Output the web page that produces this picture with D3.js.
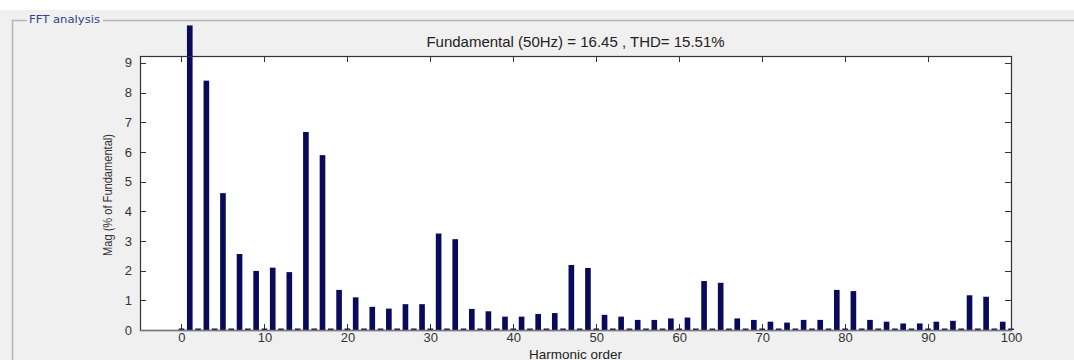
<!DOCTYPE html>
<html>
<head>
<meta charset="utf-8">
<script src="https://cdn.jsdelivr.net/npm/d3@7"></script>
<style>
  html, body { margin: 0; padding: 0; background: #ffffff; }
  svg { display: block; font-family: "Liberation Sans", Arial, sans-serif; }
</style>
</head>
<body>
<svg id="chart" width="1074" height="360"></svg>
<script>
// harmonic orders 0..100, values in % of fundamental (fundamental itself not shown)
var harmonics = d3.range(0, 101);
var oddMag = {
  1: 10.26, 3: 8.40, 5: 4.61, 7: 2.56, 9: 1.99, 11: 2.10, 13: 1.95, 15: 6.67,
  17: 5.89, 19: 1.35, 21: 1.10, 23: 0.78, 25: 0.72, 27: 0.87, 29: 0.87,
  31: 3.25, 33: 3.06, 35: 0.71, 37: 0.63, 39: 0.45, 41: 0.45, 43: 0.54,
  45: 0.57, 47: 2.19, 49: 2.09, 51: 0.51, 53: 0.45, 55: 0.34, 57: 0.34,
  59: 0.39, 61: 0.42, 63: 1.65, 65: 1.59, 67: 0.39, 69: 0.34, 71: 0.28,
  73: 0.25, 75: 0.34, 77: 0.34, 79: 1.35, 81: 1.31, 83: 0.34, 85: 0.28,
  87: 0.22, 89: 0.22, 91: 0.28, 93: 0.31, 95: 1.17, 97: 1.12, 99: 0.28
};
var evenMag = 0.05;
var xTicks = d3.range(0, 101, 10);
var yTicks = d3.range(0, 10, 1);
var title = "Fundamental (50Hz) = 16.45 , THD= 15.51%";

var data = harmonics.map(function (h) {
  return { h: h, v: oddMag[h] !== undefined ? oddMag[h] : evenMag };
});

var svg = d3.select("#chart");
var plotL = 140, plotR = 1011, plotT = 56, plotB = 330;

// window background and group box
svg.append("rect").attr("x", 0).attr("y", 0).attr("width", 1074).attr("height", 360)
    .attr("fill", "#ffffff");
svg.append("rect").attr("x", 0).attr("y", 10).attr("width", 1074).attr("height", 350)
    .attr("fill", "#f0f0f0");
svg.append("path")
    .attr("d", "M27,20.5 H12.5 V360 M103,20.5 H1074")
    .attr("fill", "none").attr("stroke", "#b4b4b4").attr("stroke-width", 1.5);
svg.append("text").attr("x", 29).attr("y", 23)
    .attr("font-family", "'DejaVu Sans', Verdana, sans-serif")
    .attr("font-size", 10).attr("fill", "#34408c")
    .attr("textLength", 71).attr("lengthAdjust", "spacingAndGlyphs")
    .text("FFT analysis");

var x = d3.scaleLinear().domain([-5, 100]).range([plotL, plotR]);
var y = d3.scaleLinear().domain([0, 9.23]).range([plotB, plotT]);
var barW = x(0.68) - x(0);

svg.append("rect").attr("x", plotL).attr("y", plotT)
    .attr("width", plotR - plotL).attr("height", plotB - plotT).attr("fill", "#ffffff");

// axes with inward ticks, MATLAB style
var gx = svg.append("g").attr("transform", "translate(0," + plotB + ")")
    .call(d3.axisBottom(x).tickValues(xTicks).tickSize(0).tickPadding(3));
var gy = svg.append("g").attr("transform", "translate(" + plotL + ",0)")
    .call(d3.axisLeft(y).tickValues(yTicks).tickSize(0).tickPadding(8));
[gx, gy].forEach(function (g) {
  g.select(".domain").remove();
  g.selectAll("text").attr("font-size", 13).attr("fill", "#333333")
      .attr("font-family", "'Liberation Sans', Arial, sans-serif");
});

var tickLen = 6;
var ticks = svg.append("g").attr("stroke", "#333333").attr("stroke-width", 1);
xTicks.forEach(function (t) {
  var px = Math.round(x(t)) + 0.5;
  ticks.append("line").attr("x1", px).attr("x2", px).attr("y1", plotB).attr("y2", plotB - tickLen);
  ticks.append("line").attr("x1", px).attr("x2", px).attr("y1", plotT).attr("y2", plotT + tickLen);
});
yTicks.forEach(function (t) {
  var py = Math.round(y(t)) + 0.5;
  ticks.append("line").attr("y1", py).attr("y2", py).attr("x1", plotL).attr("x2", plotL + tickLen);
  ticks.append("line").attr("y1", py).attr("y2", py).attr("x1", plotR).attr("x2", plotR - tickLen);
});

// bars (not clipped, like the original)
svg.append("g").selectAll("rect").data(data).enter().append("rect")
    .attr("x", function (d) { return x(d.h) - barW / 2; })
    .attr("y", function (d) { return y(d.v); })
    .attr("width", barW)
    .attr("height", function (d) { return y(0) - y(d.v); })
    .attr("fill", "#0a0a5a");

// box
svg.append("rect").attr("x", plotL + 0.5).attr("y", plotT + 0.5)
    .attr("width", plotR - plotL).attr("height", plotB - plotT)
    .attr("fill", "none").attr("stroke", "#333333").attr("stroke-width", 1.2);
svg.append("line").attr("x1", plotL).attr("x2", plotR + 1)
    .attr("y1", plotB + 0.5).attr("y2", plotB + 0.5)
    .attr("stroke", "#7a7a7a").attr("stroke-width", 1.5);

// labels
svg.append("text").attr("x", (plotL + plotR) / 2).attr("y", 47)
    .attr("text-anchor", "middle").attr("font-size", 15).attr("fill", "#222222")
    .text(title);
svg.append("text").attr("x", (plotL + plotR) / 2).attr("y", 358.5)
    .attr("text-anchor", "middle").attr("font-size", 13.5).attr("fill", "#222222")
    .text("Harmonic order");
svg.append("text")
    .attr("transform", "translate(112," + ((plotT + plotB) / 2 + 2) + ") rotate(-90)")
    .attr("text-anchor", "middle").attr("font-size", 13).attr("fill", "#333333")
    .attr("textLength", 122).attr("lengthAdjust", "spacingAndGlyphs")
    .text("Mag (% of Fundamental)");
</script>
</body>
</html>
